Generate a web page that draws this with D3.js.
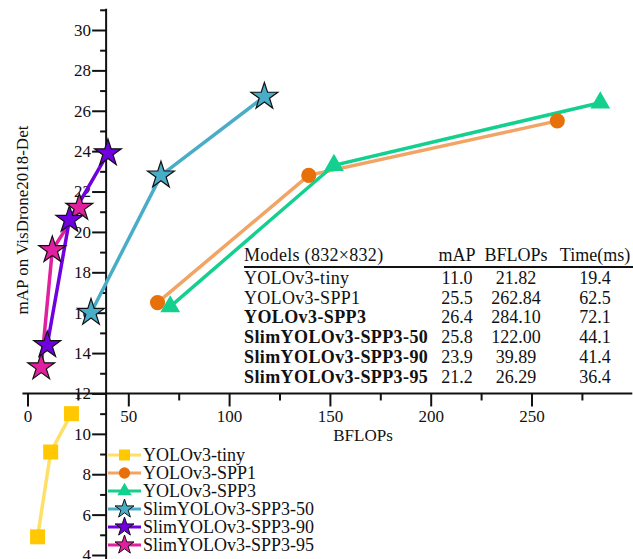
<!DOCTYPE html>
<html>
<head>
<meta charset="utf-8">
<script src="https://cdn.jsdelivr.net/npm/d3@7"></script>
<style>
  body { margin: 0; background: #fff; }
  svg { display: block; }
  text { font-family: "Liberation Serif", "Times New Roman", serif; fill: #111; }
</style>
</head>
<body>
<div id="chart"></div>
<script>

// === Data === //

var seriesNames = ['YOLOv3-tiny', 'YOLOv3-SPP1', 'YOLOv3-SPP3', 'SlimYOLOv3-SPP3-50', 'SlimYOLOv3-SPP3-90', 'SlimYOLOv3-SPP3-95'];

var seriesBflops = [
	[5.0, 11.5, 21.8],
	[64.5, 139.5, 262.8],
	[70.8, 152.0, 284.1],
	[31.5, 66.2, 117.5],
	[9.8, 20.8, 39.9],
	[6.8, 12.3, 25.7]
];

var seriesMap = [
	[4.9, 9.1, 11.0],
	[16.5, 22.8, 25.5],
	[16.3, 23.3, 26.4],
	[16.0, 22.8, 26.7],
	[14.4, 20.6, 23.9],
	[13.3, 19.1, 21.2]
];

var lineColours = ['#ffe066', '#f2a465', '#14d08e', '#4aadc8', '#7000e0', '#e0209f'];
var markColours = ['#ffc800', '#e8700a', '#14d08e', '#4aadc8', '#7000e0', '#e0209f'];
var markShapes = ['square', 'circle', 'triangle', 'star', 'star', 'star'];

var xTicks = [0, 50, 100, 150, 200, 250];
var xMinor = [25, 75, 125, 175, 225, 275];
var yTicks = [4, 6, 8, 10, 12, 14, 16, 18, 20, 22, 24, 26, 28, 30];
var yMinor = [5, 7, 9, 11, 13, 15, 17, 19, 21, 23, 25, 27, 29, 31];

// table that sits in the plot
var tableHeader = ['Models (832\u00d7832)', 'mAP', 'BFLOPs', 'Time(ms)'];
var tableModels = ['YOLOv3-tiny', 'YOLOv3-SPP1', 'YOLOv3-SPP3', 'SlimYOLOv3-SPP3-50', 'SlimYOLOv3-SPP3-90', 'SlimYOLOv3-SPP3-95'];
var tableMap = ['11.0', '25.5', '26.4', '25.8', '23.9', '21.2'];
var tableBflops = ['21.82', '262.84', '284.10', '122.00', '39.89', '26.29'];
var tableTime = ['19.4', '62.5', '72.1', '44.1', '41.4', '36.4'];
var tableBold = [false, false, true, true, true, true];


// === Set up svg and scales === //

var width = 633, height = 559;

var svg = d3.select('#chart').append('svg').attr('width', width).attr('height', height);

var x = d3.scaleLinear().domain([0, 300]).range([27.5, 632.3]);
var y = d3.scaleLinear().domain([4, 30]).range([555, 30]);

var xCross = 12; // x axis sits at mAP 12
var yCross = 39; // y axis sits at 39 BFLOPs

function symbolFor(shape, big) {

	var types = { square: d3.symbolSquare, circle: d3.symbolCircle, triangle: d3.symbolTriangle, star: d3.symbolStar };
	var sizes = big
		? { square: 225, circle: 180, triangle: 170, star: 225 }
		: { square: 121, circle: 100, triangle: 90, star: 112 };

	return d3.symbol().type(types[shape]).size(sizes[shape])();

} // symbolFor()


// === Axes === //

var xAxisG = svg.append('g').attr('transform', 'translate(0,' + y(xCross) + ')');

xAxisG.append('line')
	.attr('x1', x(-2.5)).attr('x2', x(300))
	.attr('stroke', '#111').attr('stroke-width', 2);

xAxisG.append('g')
	.call(d3.axisBottom(x).tickValues(xTicks).tickSize(13).tickPadding(3).tickFormat(d3.format('d')))
	.call(function(g) { g.select('.domain').remove(); })
	.call(function(g) {
		g.selectAll('line').attr('stroke', '#111').attr('stroke-width', 2);
		g.selectAll('text').attr('font-size', 17).attr('fill', '#111').attr('font-family', '"Liberation Serif", serif');
	});

xAxisG.append('g')
	.call(d3.axisBottom(x).tickValues(xMinor).tickSize(7).tickFormat(''))
	.call(function(g) { g.select('.domain').remove(); })
	.call(function(g) { g.selectAll('line').attr('stroke', '#111').attr('stroke-width', 2); });

var yAxisG = svg.append('g').attr('transform', 'translate(' + x(yCross) + ',0)');

yAxisG.append('line')
	.attr('y1', y(31) - 1).attr('y2', height)
	.attr('stroke', '#111').attr('stroke-width', 2);

yAxisG.append('g')
	.call(d3.axisLeft(y).tickValues(yTicks).tickSize(14).tickPadding(1).tickFormat(d3.format('d')))
	.call(function(g) { g.select('.domain').remove(); })
	.call(function(g) {
		g.selectAll('line').attr('stroke', '#111').attr('stroke-width', 2);
		g.selectAll('text').attr('font-size', 17).attr('fill', '#111').attr('font-family', '"Liberation Serif", serif');
	});

yAxisG.append('g')
	.call(d3.axisLeft(y).tickValues(yMinor).tickSize(6).tickFormat(''))
	.call(function(g) { g.select('.domain').remove(); })
	.call(function(g) { g.selectAll('line').attr('stroke', '#111').attr('stroke-width', 2); });

svg.append('text')
	.attr('x', 363).attr('y', 441)
	.attr('text-anchor', 'middle').attr('font-size', 17)
	.text('BFLOPs');

svg.append('text')
	.attr('transform', 'translate(28,220) rotate(-90)')
	.attr('text-anchor', 'middle').attr('font-size', 17)
	.text('mAP on VisDrone2018-Det');


// === Series === //

var series = seriesNames.map(function(name, i) {
	return {
		name: name,
		points: seriesBflops[i].map(function(b, j) { return { b: b, m: seriesMap[i][j] }; }),
		line: lineColours[i],
		mark: markColours[i],
		shape: markShapes[i]
	};
});

// draw 95 before 90 so the purple sits on top
var drawOrder = [0, 1, 2, 3, 5, 4];

var line = d3.line().x(function(d) { return x(d.b); }).y(function(d) { return y(d.m); });

svg.append('g').selectAll('path')
	.data(drawOrder.map(function(i) { return series[i]; }))
	.join('path')
	.attr('d', function(d) { return line(d.points); })
	.attr('fill', 'none')
	.attr('stroke', function(d) { return d.line; })
	.attr('stroke-width', 3.5);

drawOrder.forEach(function(i) {

	var s = series[i];

	svg.append('g').selectAll('path')
		.data(s.points)
		.join('path')
		.attr('transform', function(d) { return 'translate(' + x(d.b) + ',' + y(d.m) + ')'; })
		.attr('d', symbolFor(s.shape, true))
		.attr('fill', s.mark)
		.attr('stroke', s.shape === 'star' ? '#111' : 'none')
		.attr('stroke-width', 1.2);

});


// === Legend === //

var legend = svg.append('g').attr('transform', 'translate(108,455)');

var rows = legend.selectAll('g')
	.data(series)
	.join('g')
	.attr('transform', function(d, i) { return 'translate(0,' + (i * 18) + ')'; });

rows.append('line')
	.attr('x1', 0).attr('x2', 33)
	.attr('stroke', function(d) { return d.line; })
	.attr('stroke-width', 3);

rows.append('path')
	.attr('transform', 'translate(16.5,0)')
	.attr('d', function(d) { return symbolFor(d.shape, false); })
	.attr('fill', function(d) { return d.mark; })
	.attr('stroke', function(d) { return d.shape === 'star' ? '#111' : 'none'; })
	.attr('stroke-width', 1);

rows.append('text')
	.attr('x', 35).attr('y', 6)
	.attr('font-size', 18)
	.text(function(d) { return d.name; });


// === Table === //

var table = svg.append('g');
var colX = [244, 457, 516, 595];
var headY = 261, rowY0 = 284, rowStep = 19.7;

table.selectAll('text.head')
	.data(tableHeader)
	.join('text')
	.attr('class', 'head')
	.attr('x', function(d, i) { return colX[i]; })
	.attr('y', headY)
	.attr('text-anchor', function(d, i) { return i === 0 ? 'start' : 'middle'; })
	.attr('font-size', 18)
	.attr('letter-spacing', function(d, i) { return i === 0 ? 0.3 : 0; })
	.text(function(d) { return d; });

table.append('line')
	.attr('x1', 244).attr('x2', 633)
	.attr('y1', 267).attr('y2', 267)
	.attr('stroke', '#111').attr('stroke-width', 2);

var tableRows = table.selectAll('g.row')
	.data(tableModels)
	.join('g')
	.attr('class', 'row')
	.attr('transform', function(d, i) { return 'translate(0,' + (rowY0 + i * rowStep) + ')'; });

tableRows.each(function(d, i) {

	var cells = [tableModels[i], tableMap[i], tableBflops[i], tableTime[i]];

	d3.select(this).selectAll('text')
		.data(cells)
		.join('text')
		.attr('x', function(c, k) { return colX[k]; })
		.attr('text-anchor', function(c, k) { return k === 0 ? 'start' : 'middle'; })
		.attr('font-size', 18)
		.attr('letter-spacing', function(c, k) { return k === 0 ? (tableBold[i] ? 0.4 : 0.3) : 0; })
		.attr('font-weight', function(c, k) { return k === 0 && tableBold[i] ? 'bold' : 'normal'; })
		.text(function(c) { return c; });

});

</script>
</body>
</html>
